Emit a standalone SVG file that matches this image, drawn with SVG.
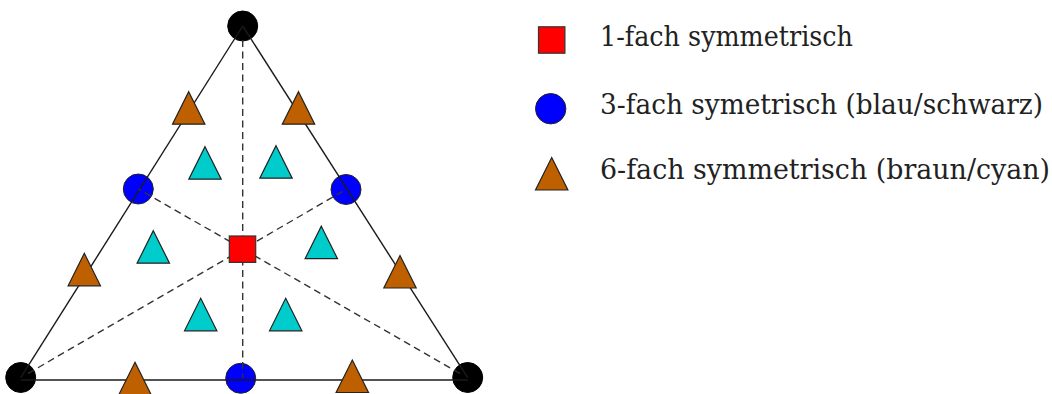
<svg xmlns="http://www.w3.org/2000/svg" xmlns:xlink="http://www.w3.org/1999/xlink" width="1052" height="394" viewBox="0 0 1052 394">
<defs>
<style>
.vtx{fill:#000;stroke:#000;stroke-width:1}
.blue{fill:#0000ff;stroke:#222;stroke-width:1}
.red{fill:#ff0000;stroke:#333;stroke-width:1.2}
.brown{fill:#bf6000;stroke:#222;stroke-width:1.2}
.cyan{fill:#00cccc;stroke:#222;stroke-width:1.2}
.edge{stroke:#1a1a1a;stroke-width:1.4;fill:none}
.dash{stroke:#333;stroke-width:1.4;stroke-dasharray:7 4.5;fill:none}
.lbl{font-family:"DejaVu Serif",serif;font-size:27px;fill:#222}
</style>
<path id="tri" d="M0,0 L16.2,32.5 L-16.2,32.5 Z"/>
</defs>
<rect width="1052" height="394" fill="#fff"/>
<g id="v-top"><circle class="vtx" cx="242.7" cy="26" r="15"/></g>
<g id="v-bl"><circle class="vtx" cx="20.7" cy="377.5" r="15"/></g>
<g id="v-br"><circle class="vtx" cx="467.7" cy="377.5" r="15"/></g>
<g id="b-left"><circle class="blue" cx="138.3" cy="189" r="15"/></g>
<g id="b-right"><circle class="blue" cx="346" cy="189.5" r="15"/></g>
<g id="b-bottom"><circle class="blue" cx="240.7" cy="378.3" r="15"/></g>
<g id="connectors">
<line class="edge" x1="242.7" y1="26" x2="20.7" y2="377.7"/>
<line class="edge" x1="242.7" y1="26" x2="467.7" y2="377.7"/>
<line class="edge" x1="20.7" y1="380" x2="467.7" y2="380"/>
<line class="dash" x1="242.7" y1="40" x2="242.7" y2="378"/>
<line class="dash" x1="28" y1="373.5" x2="346" y2="189.5"/>
<line class="dash" x1="460" y1="373.5" x2="138.3" y2="189"/>
</g>
<g id="center"><rect class="red" x="229.3" y="236" width="26.4" height="26.4"/></g>
<g id="br-1"><use href="#tri" class="brown" x="188.7" y="91.7"/></g>
<g id="br-2"><use href="#tri" class="brown" x="298.5" y="91.7"/></g>
<g id="br-3"><use href="#tri" class="brown" x="84.3" y="253.3"/></g>
<g id="br-4"><use href="#tri" class="brown" x="400" y="255.5"/></g>
<g id="br-5"><use href="#tri" class="brown" x="135" y="362.3"/></g>
<g id="br-6"><use href="#tri" class="brown" x="352.3" y="360"/></g>
<g id="cy-1"><use href="#tri" class="cyan" x="205" y="146.7"/></g>
<g id="cy-2"><use href="#tri" class="cyan" x="276" y="145.7"/></g>
<g id="cy-3"><use href="#tri" class="cyan" x="153.3" y="230.7"/></g>
<g id="cy-4"><use href="#tri" class="cyan" x="321.3" y="226.2"/></g>
<g id="cy-5"><use href="#tri" class="cyan" x="200.7" y="298.3"/></g>
<g id="cy-6"><use href="#tri" class="cyan" x="285.7" y="298.3"/></g>
<g id="legend-1">
<rect class="red" x="538.5" y="26.8" width="26.4" height="26.4"/>
<text class="lbl" x="600" y="46" textLength="253" lengthAdjust="spacingAndGlyphs">1-fach symmetrisch</text>
</g>
<g id="legend-3">
<circle class="blue" cx="550.7" cy="108.7" r="15.2"/>
<text class="lbl" x="600" y="113.5" textLength="443" lengthAdjust="spacingAndGlyphs">3-fach symetrisch (blau/schwarz)</text>
</g>
<g id="legend-6">
<use href="#tri" class="brown" x="551.7" y="157.5"/>
<text class="lbl" x="600" y="179" textLength="450" lengthAdjust="spacingAndGlyphs">6-fach symmetrisch (braun/cyan)</text>
</g>
</svg>
